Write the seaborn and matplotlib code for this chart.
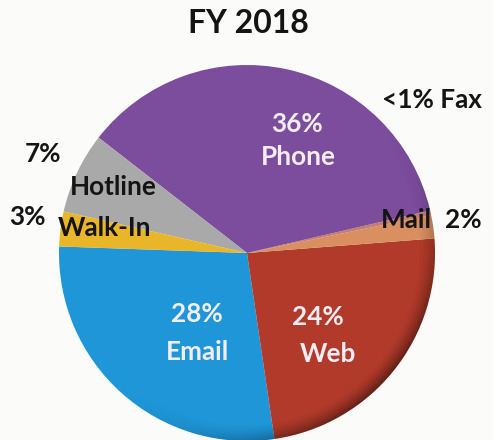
import matplotlib
matplotlib.use("Agg")
import matplotlib.pyplot as plt
from matplotlib.patches import Circle
import numpy as np
import seaborn as sns

# Contact channels, FY 2018 (share of contacts, %)
channels = ["Email", "Web", "Mail", "Fax", "Phone", "Hotline", "Walk-In"]
shares = [28, 24, 2, 0.4, 36, 7, 3]
share_text = ["28%", "24%", "2%", "<1%", "36%", "7%", "3%"]

palette = ["#1E96D7", "#B13A2A", "#D98F60", "#C77E6A", "#7C4C9D", "#A9A9A9", "#E8B628"]

sns.set_theme(style="white")
plt.rcParams["font.family"] = ["Lato", "DejaVu Sans"]

W, H = 493, 440
bg = "#FBFBFA"
fig = plt.figure(figsize=(W / 100, H / 100), dpi=100, facecolor=bg)
ax = fig.add_axes([0, 0, 1, 1])
ax.set_facecolor(bg)

cx, cy, r = 247, H - 253, 188
ax.pie(shares, colors=palette, startangle=178, counterclock=True,
       center=(cx, cy), radius=r, frame=False,
       wedgeprops=dict(linewidth=0, antialiased=True))

# soft rim shading, darker towards the lower right
n = 400
gx = np.linspace(cx - r, cx + r, n)
gy = np.linspace(cy - r, cy + r, n)
X, Y = np.meshgrid(gx, gy)
d = np.hypot(X - cx, Y - cy) / r
ang = np.arctan2(Y - cy, X - cx)
side = np.clip(np.cos(ang + np.pi / 4), 0, 1) ** 2  # strongest toward lower right
rim = np.clip((d - 0.91) / 0.09, 0, 1) ** 1.5
alpha = 0.45 * rim * side
shade = np.zeros((n, n, 4))
shade[..., 3] = alpha
im = ax.imshow(shade, extent=(cx - r, cx + r, cy - r, cy + r), origin="lower",
               interpolation="bilinear", zorder=3)
im.set_clip_path(Circle((cx, cy), r, transform=ax.transData))

ax.set_xlim(0, W)
ax.set_ylim(0, H)
ax.set_aspect("equal")
ax.axis("off")

def px(x, y):
    return x, H - y

dark = "#141414"
light = "#F4EEF4"
fs = 18.8

def label(x, y, s, color, size=fs):
    ax.text(*px(x, y), s, ha="center", va="baseline", fontsize=size,
            fontweight="bold", color=color, zorder=5)

label(248, 33, "FY 2018", dark, size=23)

idx = {c: i for i, c in enumerate(channels)}

# large slices: share and name inside, in white
label(297, 132, share_text[idx["Phone"]], light)
label(298, 165, "Phone", light)
label(197, 322, share_text[idx["Email"]], light)
label(197, 360, "Email", light)
label(318, 325, share_text[idx["Web"]], light)
label(328, 362, "Web", light)

# small slices: name inside, share outside, in black
label(113, 195, "Hotline", dark)
label(43, 162, share_text[idx["Hotline"]], dark)
label(105, 236, "Walk-In", dark)
label(27, 225, share_text[idx["Walk-In"]], dark)
label(406, 228, "Mail", dark)
label(463, 228, share_text[idx["Mail"]], dark)
label(432, 108, share_text[idx["Fax"]] + " Fax", dark)

fig.savefig("out.png", dpi=100, facecolor=fig.get_facecolor())
